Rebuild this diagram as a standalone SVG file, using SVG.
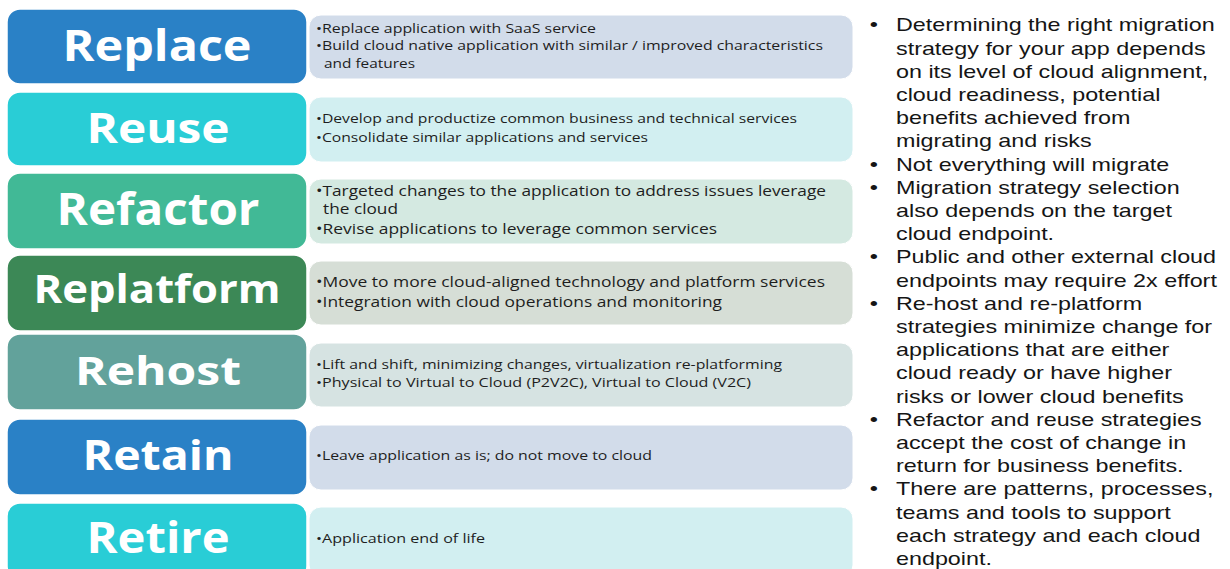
<svg xmlns="http://www.w3.org/2000/svg" width="1230" height="569" viewBox="0 0 1230 569">
<style>
.bg{fill:#ffffff}
.tbox{stroke:#ffffff;stroke-width:1.5}
.dbox{stroke:#ffffff;stroke-width:1}
.title{font-family:"Open Sans","DejaVu Sans",sans-serif;font-weight:700;fill:#ffffff;text-anchor:middle}
.desc{font-family:"Open Sans","DejaVu Sans",sans-serif;fill:#1e1e1e}
.side{font-family:"Liberation Sans",Arial,sans-serif;font-size:18.6px;fill:#151515}
.c-blue{fill:#2a81c6}.d-blue{fill:#d2dcea}
.c-cyan{fill:#29cdd6}.d-cyan{fill:#d2eff1}
.c-teal{fill:#41b996}.d-teal{fill:#d4e9e1}
.c-green{fill:#3c8856}.d-green{fill:#d6ded6}
.c-grey{fill:#62a29b}.d-grey{fill:#d6e3e2}
</style>
<rect class="bg" x="0" y="0" width="1230" height="569"/>
<g id="connectors"/>

<g id="replace">
  <rect class="dbox d-blue" x="309" y="15" width="544" height="64" rx="12"/>
  <rect class="tbox c-blue" x="7" y="9" width="300" height="75" rx="13"/>
  <text class="title" x="157" y="61" font-size="43" textLength="189" lengthAdjust="spacingAndGlyphs">Replace</text>
  <text class="desc" font-size="13.5" x="316" y="33" textLength="280" lengthAdjust="spacingAndGlyphs">•Replace application with SaaS service</text>
  <text class="desc" font-size="13.5" x="316" y="50" textLength="507" lengthAdjust="spacingAndGlyphs">•Build cloud native application with similar / improved characteristics</text>
  <text class="desc" font-size="13.5" x="324" y="68" textLength="91" lengthAdjust="spacingAndGlyphs">and features</text>
</g>

<g id="reuse">
  <rect class="dbox d-cyan" x="309" y="97" width="544" height="65" rx="12"/>
  <rect class="tbox c-cyan" x="7" y="92" width="300" height="74" rx="13"/>
  <text class="title" x="158" y="143" font-size="42" textLength="143" lengthAdjust="spacingAndGlyphs">Reuse</text>
  <text class="desc" font-size="13.5" x="316" y="123" textLength="481" lengthAdjust="spacingAndGlyphs">•Develop and productize common business and technical services</text>
  <text class="desc" font-size="13.5" x="316" y="142" textLength="332" lengthAdjust="spacingAndGlyphs">•Consolidate similar applications and services</text>
</g>

<g id="refactor">
  <rect class="dbox d-teal" x="309" y="179" width="544" height="65" rx="12"/>
  <rect class="tbox c-teal" x="7" y="173" width="300" height="76" rx="13"/>
  <text class="title" x="158" y="225" font-size="44" textLength="203" lengthAdjust="spacingAndGlyphs">Refactor</text>
  <text class="desc" font-size="15" x="316" y="196" textLength="510" lengthAdjust="spacingAndGlyphs">•Targeted changes to the application to address issues leverage</text>
  <text class="desc" font-size="15" x="323" y="214" textLength="75" lengthAdjust="spacingAndGlyphs">the cloud</text>
  <text class="desc" font-size="15" x="316" y="234" textLength="401" lengthAdjust="spacingAndGlyphs">•Revise applications to leverage common services</text>
</g>

<g id="replatform">
  <rect class="dbox d-green" x="309" y="261" width="544" height="64" rx="12"/>
  <rect class="tbox c-green" x="7" y="255" width="300" height="76" rx="13"/>
  <text class="title" x="157" y="303" font-size="40" textLength="247" lengthAdjust="spacingAndGlyphs">Replatform</text>
  <text class="desc" font-size="15" x="316" y="287" textLength="509" lengthAdjust="spacingAndGlyphs">•Move to more cloud-aligned technology and platform services</text>
  <text class="desc" font-size="15" x="316" y="307" textLength="406" lengthAdjust="spacingAndGlyphs">•Integration with cloud operations and monitoring</text>
</g>

<g id="rehost">
  <rect class="dbox d-grey" x="309" y="343" width="544" height="64" rx="12"/>
  <rect class="tbox c-grey" x="7" y="334" width="300" height="76" rx="13"/>
  <text class="title" x="158" y="385" font-size="40" textLength="166" lengthAdjust="spacingAndGlyphs">Rehost</text>
  <text class="desc" font-size="13" x="316" y="369" textLength="466" lengthAdjust="spacingAndGlyphs">•Lift and shift, minimizing changes, virtualization re-platforming</text>
  <text class="desc" font-size="13" x="316" y="387" textLength="435" lengthAdjust="spacingAndGlyphs">•Physical to Virtual to Cloud (P2V2C), Virtual to Cloud (V2C)</text>
</g>

<g id="retain">
  <rect class="dbox d-blue" x="309" y="425" width="544" height="65" rx="12"/>
  <rect class="tbox c-blue" x="7" y="419" width="300" height="76" rx="13"/>
  <text class="title" x="158" y="470" font-size="42" textLength="151" lengthAdjust="spacingAndGlyphs">Retain</text>
  <text class="desc" font-size="13" x="316" y="460" textLength="336" lengthAdjust="spacingAndGlyphs">•Leave application as is; do not move to cloud</text>
</g>

<g id="retire">
  <rect class="dbox d-cyan" x="309" y="507" width="544" height="70" rx="12"/>
  <rect class="tbox c-cyan" x="7" y="503" width="300" height="76" rx="13"/>
  <text class="title" x="158" y="553" font-size="43" textLength="143" lengthAdjust="spacingAndGlyphs">Retire</text>
  <text class="desc" font-size="13" x="316" y="543" textLength="169" lengthAdjust="spacingAndGlyphs">•Application end of life</text>
</g>

<g id="notes" transform="matrix(1.254 0 0 1 896 0)">
  <g class="side">
    <text x="-21" y="31.5">•</text><text x="0" y="31.5">Determining the right migration</text>
    <text x="0" y="54.7">strategy for your app depends</text>
    <text x="0" y="77.9">on its level of cloud alignment,</text>
    <text x="0" y="101.1">cloud readiness, potential</text>
    <text x="0" y="124.3">benefits achieved from</text>
    <text x="0" y="147.5">migrating and risks</text>
    <text x="-21" y="170.7">•</text><text x="0" y="170.7">Not everything will migrate</text>
    <text x="-21" y="193.9">•</text><text x="0" y="193.9">Migration strategy selection</text>
    <text x="0" y="217.1">also depends on the target</text>
    <text x="0" y="240.3">cloud endpoint.</text>
    <text x="-21" y="263.5">•</text><text x="0" y="263.5">Public and other external cloud</text>
    <text x="0" y="286.7">endpoints may require 2x effort</text>
    <text x="-21" y="309.9">•</text><text x="0" y="309.9">Re-host and re-platform</text>
    <text x="0" y="333.1">strategies minimize change for</text>
    <text x="0" y="356.3">applications that are either</text>
    <text x="0" y="379.5">cloud ready or have higher</text>
    <text x="0" y="402.7">risks or lower cloud benefits</text>
    <text x="-21" y="425.9">•</text><text x="0" y="425.9">Refactor and reuse strategies</text>
    <text x="0" y="449.1">accept the cost of change in</text>
    <text x="0" y="472.3">return for business benefits.</text>
    <text x="-21" y="495.5">•</text><text x="0" y="495.5">There are patterns, processes,</text>
    <text x="0" y="518.7">teams and tools to support</text>
    <text x="0" y="541.9">each strategy and each cloud</text>
    <text x="0" y="565.1">endpoint.</text>
  </g>
</g>
</svg>
